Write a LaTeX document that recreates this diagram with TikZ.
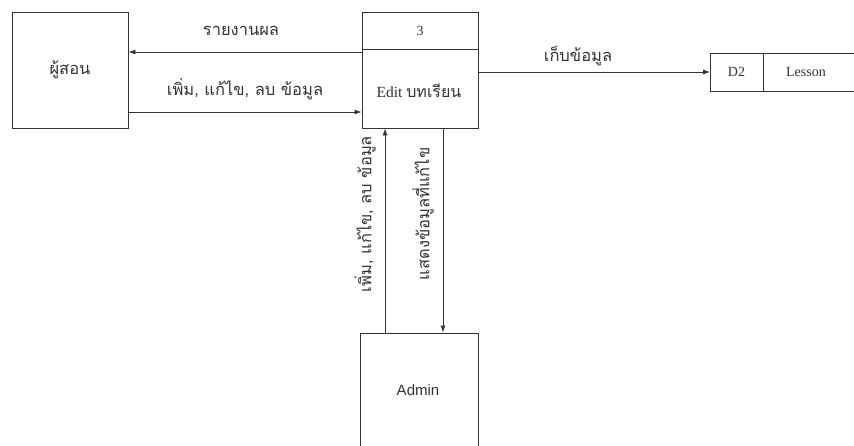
\documentclass[tikz,border=0pt]{standalone}
\usepackage{fontspec}
\setmainfont{Liberation Serif}
\newfontfamily\thaifont[Script=Thai]{Loma}
\newfontfamily\arialfont{Liberation Sans}
\usetikzlibrary{arrows.meta,calc}
\begin{document}
\begin{tikzpicture}[x=1pt,y=-1pt,
  line width=0.9pt,
  draw=black!80,
  arr/.style={-{Latex[length=7pt,width=5pt]}, draw=black!80},
  box/.style={draw=black!80, minimum width=116pt, minimum height=116pt, inner sep=0pt},
  lbl/.style={font=\thaifont\fontsize{16.5}{19}\selectfont, text=black!80, inner sep=1pt},
  lat/.style={font=\fontsize{14}{16}\selectfont, text=black!80, inner sep=1pt}]
\useasboundingbox (0,0) rectangle (854,445);
\clip (0,0) rectangle (854,445);
\fill[white] (0,0) rectangle (854,445);

% external entity teacher
\node[box] (teacher) at (70,70) {};
\node[lbl] (teachertxt) at (70,70) {ผู้สอน};

% process 3
\node[box] (proc) at (420,70) {};
\coordinate (divL) at (362,49);
\coordinate (divR) at (478,49);
\draw (divL) -- (divR);
\node[lat] (procnum) at (420,31) {3};
\node[lat, font=\fontsize{15.5}{17}\selectfont] (procname) at (419,91) {Edit {\thaifont\fontsize{16}{19}\selectfont บทเรียน}};

% data store D2
\coordinate (dsTL) at (710,53);
\coordinate (dsBL) at (710,91);
\coordinate (dsTR) at (854,53);
\coordinate (dsBR) at (854,91);
\coordinate (dsDT) at (763,53);
\coordinate (dsDB) at (763,91);
\draw (dsTR) -- (dsTL) -- (dsBL) -- (dsBR);
\draw (dsDT) -- (dsDB);
\node[lat] (d2) at (736.5,72) {D2};
\node[lat] (lesson) at (806,72) {Lesson};

% Admin
\node[draw=black!80, minimum width=118pt, minimum height=130pt, inner sep=0pt] (admin) at (419,398) {};
\node[font=\arialfont\fontsize{15}{17}\selectfont, text=black!80] (admintxt) at (418,390) {Admin};

% flows teacher <-> process
\draw[arr] (proc.west |- 0,52) -- (teacher.east |- 0,52);
\node[lbl] (l1) at (241,31) {รายงานผล};
\draw[arr] (teacher.east |- 0,112) -- (proc.west |- 0,112);
\node[lbl] (l2) at (245,89) {เพิ่ม, แก้ไข, ลบ ข้อมูล};

% flow process -> store
\draw[arr] (proc.east |- 0,72) -- (dsTL |- 0,72);
\node[lbl] (l3) at (578,56) {เก็บข้อมูล};

% flows admin <-> process
\draw[arr] (admin.north -| 385,0) -- (proc.south -| 385,0);
\node[lbl, rotate=90] (l4) at (365,214) {เพิ่ม, แก้ไข, ลบ ข้อมูล};
\draw[arr] (proc.south -| 443,0) -- (admin.north -| 443,0);
\node[lbl, rotate=90] (l5) at (423,214) {แสดงข้อมูลที่แก้ไข};
\end{tikzpicture}
\end{document}
